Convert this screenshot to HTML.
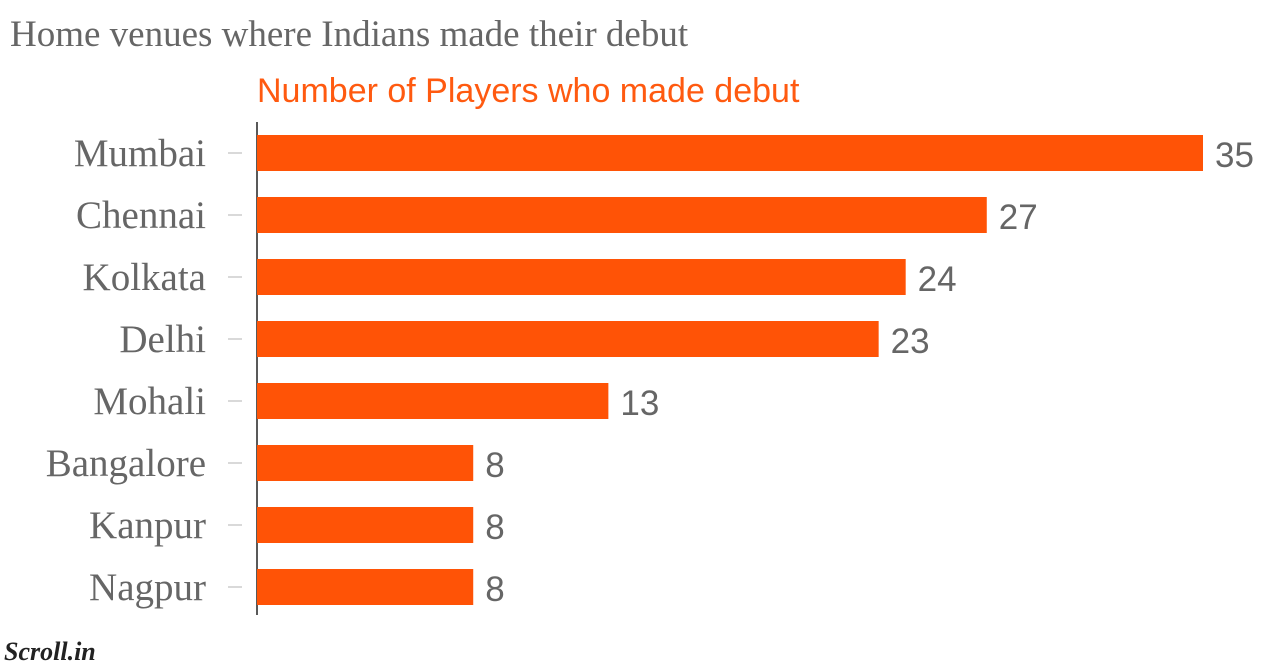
<!DOCTYPE html>
<html><head><meta charset="utf-8"><style>
html,body{margin:0;padding:0;background:#fff;width:1280px;height:667px;overflow:hidden}
</style></head><body>
<svg width="1280" height="667" xmlns="http://www.w3.org/2000/svg">
<text x="10" y="46" font-family="Liberation Serif, serif" font-size="37" fill="#666">Home venues where Indians made their debut</text>
<text x="257" y="102" font-family="Liberation Sans, sans-serif" font-size="34" fill="#ff5a10">Number of Players who made debut</text>
<line x1="257" y1="122" x2="257" y2="615" stroke="#222" stroke-width="1.5"/>
<g id="bars"></g>
<text x="4" y="660" font-family="Liberation Serif, serif" font-style="italic" font-weight="bold" font-size="26" fill="#222">Scroll.in</text>
</svg>
<script>
const categories = ["Mumbai","Chennai","Kolkata","Delhi","Mohali","Bangalore","Kanpur","Nagpur"];
const values = [35,27,24,23,13,8,8,8];
const g = document.getElementById('bars');
const NS = 'http://www.w3.org/2000/svg';
const x0 = 257, pxPerUnit = 946/35;
const xs = v => x0 + v*pxPerUnit;
const ys = i => 135 + i*62;
categories.forEach((c,i)=>{
  const y = ys(i);
  const r = document.createElementNS(NS,'rect');
  r.setAttribute('x',x0); r.setAttribute('y',y);
  r.setAttribute('width',xs(values[i])-x0); r.setAttribute('height',36);
  r.setAttribute('fill','#ff5306');
  
  
  g.appendChild(r);
  const t = document.createElementNS(NS,'line');
  t.setAttribute('x1',228); t.setAttribute('x2',242);
  t.setAttribute('y1',y+18); t.setAttribute('y2',y+18);
  t.setAttribute('stroke','#ccc'); t.setAttribute('stroke-width',1.5);
  
  
  g.appendChild(t);
  const l = document.createElementNS(NS,'text');
  l.setAttribute('x',206); l.setAttribute('y',y+31);
  l.setAttribute('text-anchor','end');
  l.setAttribute('font-family','Liberation Serif, serif');
  l.setAttribute('font-size','39'); l.setAttribute('fill','#666');
  l.textContent = c;
  
  
  g.appendChild(l);
  const v = document.createElementNS(NS,'text');
  v.setAttribute('x',xs(values[i])+12); v.setAttribute('y',y+32);
  v.setAttribute('font-family','Liberation Sans, sans-serif');
  v.setAttribute('font-size','35'); v.setAttribute('fill','#666');
  v.textContent = values[i];
  
  
  g.appendChild(v);
});
</script>
</body></html>
